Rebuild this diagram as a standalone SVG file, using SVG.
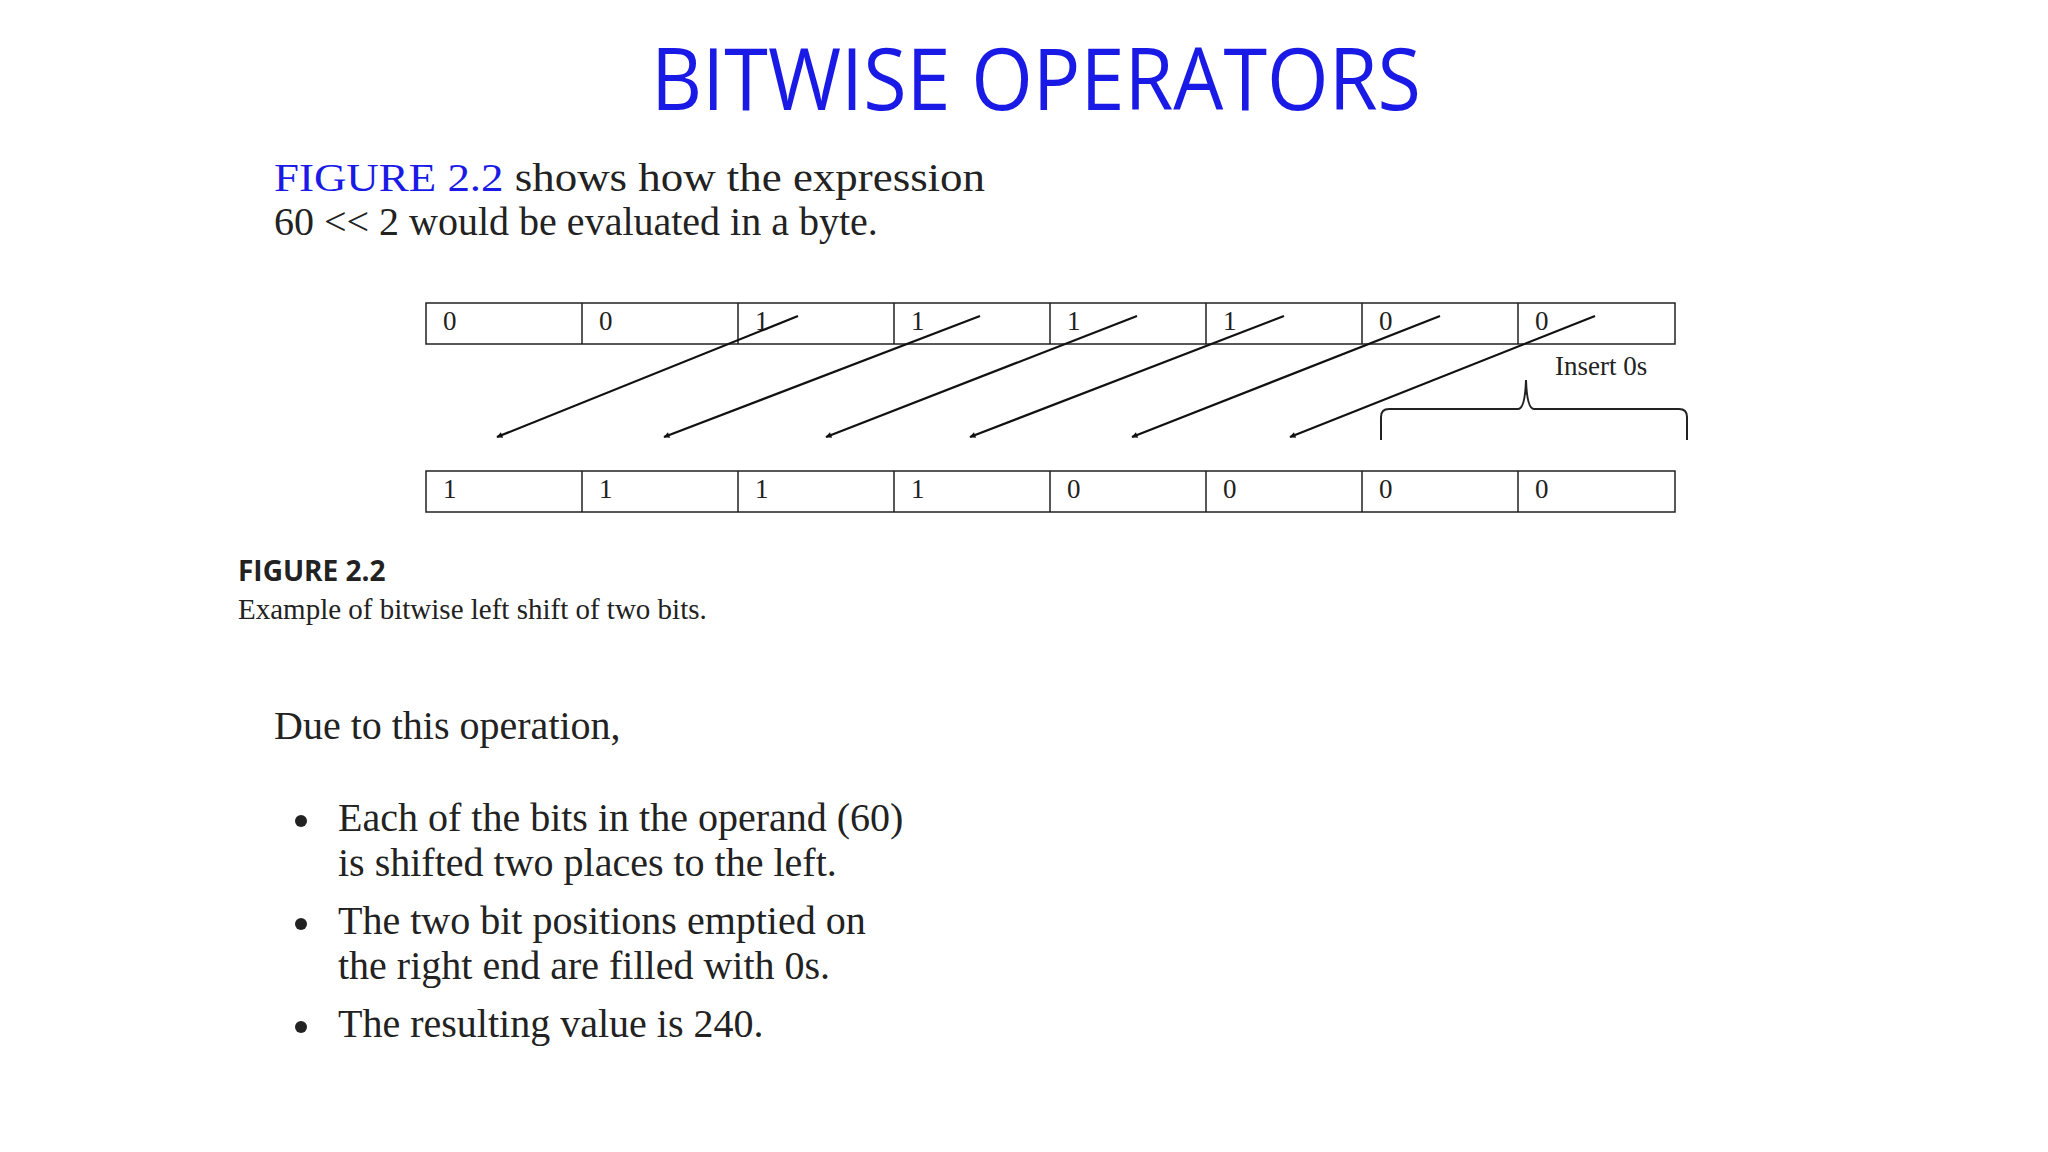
<svg xmlns="http://www.w3.org/2000/svg" width="2048" height="1152" viewBox="0 0 2048 1152">
<defs>
<style>
.serif{font-family:"Liberation Serif",serif;fill:#222}
.cell{fill:#fff;stroke:#222;stroke-width:1.5}
.d{font-family:"Liberation Serif",serif;font-size:27px;fill:#222}
.arr{stroke:#111;stroke-width:2.2;fill:none;marker-end:url(#ah)}
</style>
<marker id="ah" viewBox="0 0 10 10" refX="9" refY="5" markerWidth="8" markerHeight="6" orient="auto" markerUnits="userSpaceOnUse"><path d="M0,0 L10,5 L0,10 z" fill="#111"/></marker>
</defs>
<rect width="2048" height="1152" fill="#fff"/>
<text x="1036" y="110" text-anchor="middle" font-family="Open Sans,sans-serif" font-size="86" fill="#1a1ae6" textLength="770" lengthAdjust="spacingAndGlyphs">BITWISE OPERATORS</text>
<text class="serif" x="274" y="191" font-size="40" textLength="711" lengthAdjust="spacingAndGlyphs"><tspan fill="#1a1ae6">FIGURE 2.2</tspan> shows how the expression</text>
<text class="serif" x="274" y="235" font-size="40">60 &lt;&lt; 2 would be evaluated in a byte.</text>
<g id="top-row">
<rect class="cell" x="426" y="303" width="1249" height="41"/>
<path d="M582,303V344M738,303V344M894,303V344M1050,303V344M1206,303V344M1362,303V344M1518,303V344" stroke="#222" stroke-width="1.5"/>
<text class="d" x="443" y="330">0</text><text class="d" x="599" y="330">0</text><text class="d" x="755" y="330">1</text><text class="d" x="911" y="330">1</text><text class="d" x="1067" y="330">1</text><text class="d" x="1223" y="330">1</text><text class="d" x="1379" y="330">0</text><text class="d" x="1535" y="330">0</text>
</g>
<g id="bottom-row">
<rect class="cell" x="426" y="471" width="1249" height="41"/>
<path d="M582,471V512M738,471V512M894,471V512M1050,471V512M1206,471V512M1362,471V512M1518,471V512" stroke="#222" stroke-width="1.5"/>
<text class="d" x="443" y="498">1</text><text class="d" x="599" y="498">1</text><text class="d" x="755" y="498">1</text><text class="d" x="911" y="498">1</text><text class="d" x="1067" y="498">0</text><text class="d" x="1223" y="498">0</text><text class="d" x="1379" y="498">0</text><text class="d" x="1535" y="498">0</text>
</g>
<g id="connectors">
<line class="arr" x1="798" y1="316" x2="497" y2="437"/>
<line class="arr" x1="980" y1="316" x2="664" y2="437"/>
<line class="arr" x1="1137" y1="316" x2="826" y2="437"/>
<line class="arr" x1="1284" y1="316" x2="970" y2="437"/>
<line class="arr" x1="1440" y1="316" x2="1132" y2="437"/>
<line class="arr" x1="1595" y1="316" x2="1290" y2="437"/>
</g>
<g id="brace">
<path d="M1381,440V417Q1381,409 1389,409H1518Q1525,409 1526,380Q1527,409 1534,409H1679Q1687,409 1687,417V440" fill="none" stroke="#222" stroke-width="2"/>
<text class="d" x="1555" y="375">Insert 0s</text>
</g>
<text x="238" y="581" font-family="Open Sans,sans-serif" font-weight="bold" font-size="28" fill="#222">FIGURE 2.2</text>
<text class="serif" x="238" y="619" font-size="29">Example of bitwise left shift of two bits.</text>
<text class="serif" x="274" y="739" font-size="40">Due to this operation,</text>
<g fill="#222"><circle cx="301" cy="821" r="6"/><circle cx="301" cy="924" r="6"/><circle cx="301" cy="1027" r="6"/></g>
<text class="serif" x="338" y="831" font-size="40">Each of the bits in the operand (60)</text>
<text class="serif" x="338" y="876" font-size="40">is shifted two places to the left.</text>
<text class="serif" x="338" y="934" font-size="40">The two bit positions emptied on</text>
<text class="serif" x="338" y="979" font-size="40">the right end are filled with  0s.</text>
<text class="serif" x="338" y="1037" font-size="40">The resulting value is 240.</text>
</svg>
